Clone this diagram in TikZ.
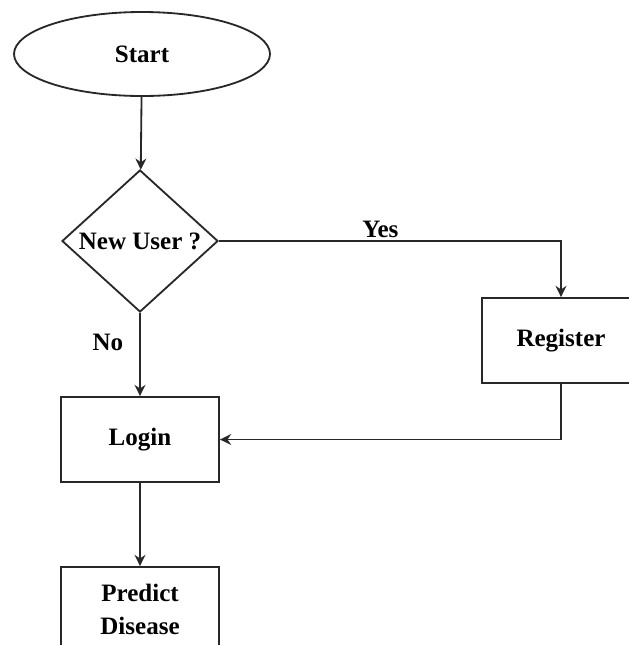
\documentclass[tikz,border=0pt]{standalone}
\usepackage{fontspec}
\setmainfont{Liberation Serif}
\usepackage{tikz}
\usetikzlibrary{
  arrows.meta,
  positioning,
  shapes.geometric
}
\definecolor{flowline}{RGB}{40,40,40}

\begin{document}
\begin{tikzpicture}[
  font=\fontsize{17.8}{23}\selectfont\bfseries,
  line width=1.3pt,
  every node/.style={inner sep=0pt},
  terminal/.style={draw=flowline, ellipse, minimum width=6.4cm, minimum height=2.1cm},
  decision/.style={draw=flowline, diamond, minimum width=3.9cm, minimum height=3.55cm},
  process/.style={draw=flowline, rectangle, minimum width=3.95cm, minimum height=2.125cm, align=center},
  flow/.style={draw=flowline, -{Stealth[length=0.28cm, width=0.27cm]}}
]
  \clip (0,0) rectangle (15.725,-16.125);
  % Nodes
  \node[terminal] (start) at (3.55,-1.35) {Start};
  \node[decision] (newuser) at (3.5,-6.025) {New User ?};
  \node[process] (register) at (14.025,-8.5125) {Register};
  \node[process] (login) at (3.5,-10.9875) {Login};
  \node[process] (predict) at (3.5,-15.2375) {Predict\\Disease};
  % Connectors
  \draw[flow] (start) -- (newuser);
  \draw[flow] (newuser.east) -| node[pos=0.236, above=0.05cm] {Yes} (register.north);
  \draw[flow] (newuser) -- node[pos=0.35, left=0.4cm] {No} (login);
  \draw[flow] (register.south) |- (login.east);
  \draw[flow] (login) -- (predict);
\end{tikzpicture}
\end{document}
